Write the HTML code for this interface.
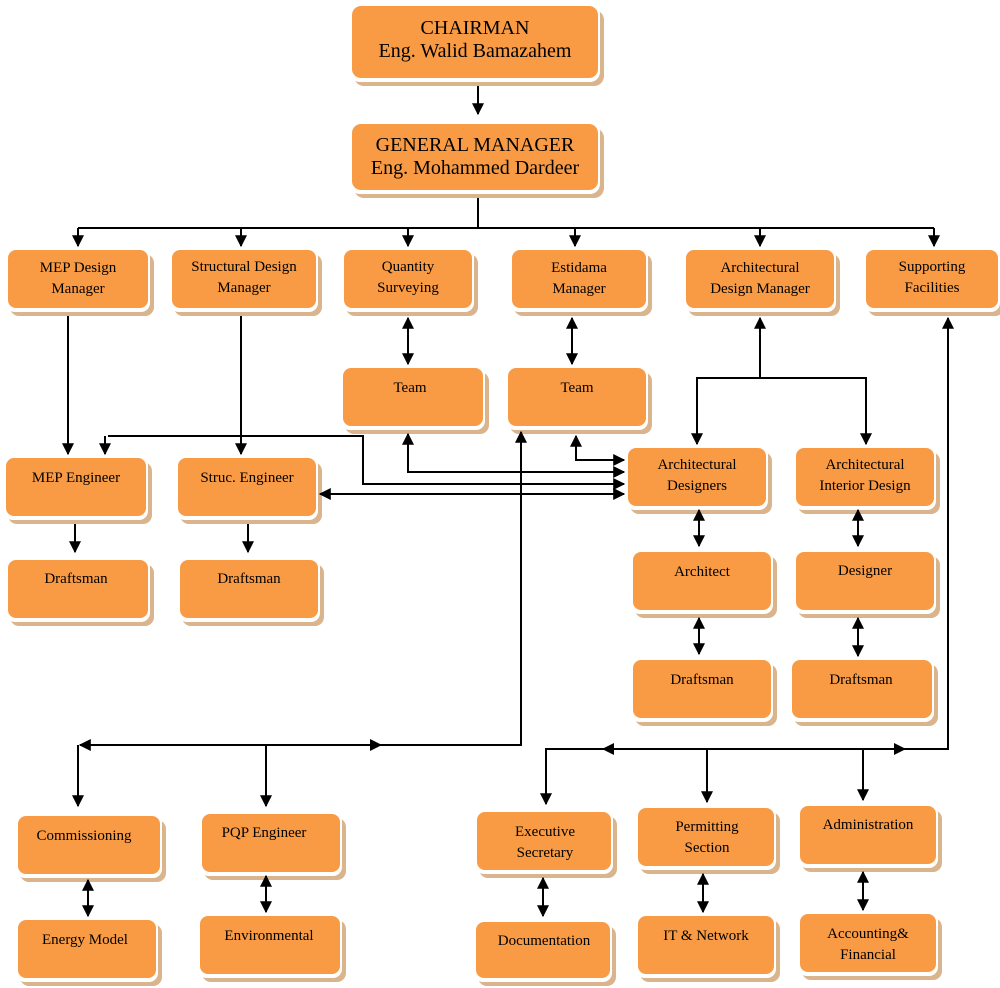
<!DOCTYPE html>
<html><head><meta charset="utf-8"><style>
body{margin:0;background:#fff;width:1000px;height:988px;overflow:hidden}
svg{display:block}
text{font-family:"Liberation Serif",serif;fill:#000;text-anchor:middle}
</style></head><body>
<svg width="1000" height="988" viewBox="0 0 1000 988" xmlns="http://www.w3.org/2000/svg">
<defs>
<marker id="a" viewBox="0 0 10 10" refX="9" refY="5" markerWidth="6" markerHeight="6" orient="auto-start-reverse" markerUnits="strokeWidth"><path d="M0,0L10,5L0,10z" fill="#000"/></marker>
</defs>
<style>
.s{fill:#d9b48c}.w{fill:#fff}.o{fill:#f99b45}
</style>
<g>
<g transform="translate(352,6)"><rect class="s" x="2" y="4" width="250" height="76" rx="10"/><rect class="w" x="-2" y="-2" width="250" height="78" rx="10"/><rect class="o" x="0" y="0" width="246" height="72" rx="9"/></g>
<g transform="translate(352,124)"><rect class="s" x="2" y="4" width="250" height="70" rx="10"/><rect class="w" x="-2" y="-2" width="250" height="72" rx="10"/><rect class="o" x="0" y="0" width="246" height="66" rx="9"/></g>
</g>
<g>
<g transform="translate(8,250)"><rect class="s" x="2" y="4" width="144" height="62" rx="9"/><rect class="w" x="-2" y="-2" width="144" height="64" rx="9"/><rect class="o" width="140" height="58" rx="8"/></g>
<g transform="translate(172,250)"><rect class="s" x="2" y="4" width="148" height="62" rx="9"/><rect class="w" x="-2" y="-2" width="148" height="64" rx="9"/><rect class="o" width="144" height="58" rx="8"/></g>
<g transform="translate(344,250)"><rect class="s" x="2" y="4" width="132" height="62" rx="9"/><rect class="w" x="-2" y="-2" width="132" height="64" rx="9"/><rect class="o" width="128" height="58" rx="8"/></g>
<g transform="translate(512,250)"><rect class="s" x="2" y="4" width="138" height="62" rx="9"/><rect class="w" x="-2" y="-2" width="138" height="64" rx="9"/><rect class="o" width="134" height="58" rx="8"/></g>
<g transform="translate(686,250)"><rect class="s" x="2" y="4" width="152" height="62" rx="9"/><rect class="w" x="-2" y="-2" width="152" height="64" rx="9"/><rect class="o" width="148" height="58" rx="8"/></g>
<g transform="translate(866,250)"><rect class="s" x="2" y="4" width="136" height="62" rx="9"/><rect class="w" x="-2" y="-2" width="136" height="64" rx="9"/><rect class="o" width="132" height="58" rx="8"/></g>
<g transform="translate(343,368)"><rect class="s" x="2" y="4" width="144" height="62" rx="9"/><rect class="w" x="-2" y="-2" width="144" height="64" rx="9"/><rect class="o" width="140" height="58" rx="8"/></g>
<g transform="translate(508,368)"><rect class="s" x="2" y="4" width="142" height="62" rx="9"/><rect class="w" x="-2" y="-2" width="142" height="64" rx="9"/><rect class="o" width="138" height="58" rx="8"/></g>
<g transform="translate(6,458)"><rect class="s" x="2" y="4" width="144" height="62" rx="9"/><rect class="w" x="-2" y="-2" width="144" height="64" rx="9"/><rect class="o" width="140" height="58" rx="8"/></g>
<g transform="translate(178,458)"><rect class="s" x="2" y="4" width="142" height="62" rx="9"/><rect class="w" x="-2" y="-2" width="142" height="64" rx="9"/><rect class="o" width="138" height="58" rx="8"/></g>
<g transform="translate(628,448)"><rect class="s" x="2" y="4" width="142" height="62" rx="9"/><rect class="w" x="-2" y="-2" width="142" height="64" rx="9"/><rect class="o" width="138" height="58" rx="8"/></g>
<g transform="translate(796,448)"><rect class="s" x="2" y="4" width="142" height="62" rx="9"/><rect class="w" x="-2" y="-2" width="142" height="64" rx="9"/><rect class="o" width="138" height="58" rx="8"/></g>
<g transform="translate(8,560)"><rect class="s" x="2" y="4" width="144" height="62" rx="9"/><rect class="w" x="-2" y="-2" width="144" height="64" rx="9"/><rect class="o" width="140" height="58" rx="8"/></g>
<g transform="translate(180,560)"><rect class="s" x="2" y="4" width="142" height="62" rx="9"/><rect class="w" x="-2" y="-2" width="142" height="64" rx="9"/><rect class="o" width="138" height="58" rx="8"/></g>
<g transform="translate(633,552)"><rect class="s" x="2" y="4" width="142" height="62" rx="9"/><rect class="w" x="-2" y="-2" width="142" height="64" rx="9"/><rect class="o" width="138" height="58" rx="8"/></g>
<g transform="translate(796,552)"><rect class="s" x="2" y="4" width="142" height="62" rx="9"/><rect class="w" x="-2" y="-2" width="142" height="64" rx="9"/><rect class="o" width="138" height="58" rx="8"/></g>
<g transform="translate(633,660)"><rect class="s" x="2" y="4" width="142" height="62" rx="9"/><rect class="w" x="-2" y="-2" width="142" height="64" rx="9"/><rect class="o" width="138" height="58" rx="8"/></g>
<g transform="translate(792,660)"><rect class="s" x="2" y="4" width="144" height="62" rx="9"/><rect class="w" x="-2" y="-2" width="144" height="64" rx="9"/><rect class="o" width="140" height="58" rx="8"/></g>
<g transform="translate(18,816)"><rect class="s" x="2" y="4" width="146" height="62" rx="9"/><rect class="w" x="-2" y="-2" width="146" height="64" rx="9"/><rect class="o" width="142" height="58" rx="8"/></g>
<g transform="translate(202,814)"><rect class="s" x="2" y="4" width="142" height="62" rx="9"/><rect class="w" x="-2" y="-2" width="142" height="64" rx="9"/><rect class="o" width="138" height="58" rx="8"/></g>
<g transform="translate(18,920)"><rect class="s" x="2" y="4" width="142" height="62" rx="9"/><rect class="w" x="-2" y="-2" width="142" height="64" rx="9"/><rect class="o" width="138" height="58" rx="8"/></g>
<g transform="translate(200,916)"><rect class="s" x="2" y="4" width="144" height="62" rx="9"/><rect class="w" x="-2" y="-2" width="144" height="64" rx="9"/><rect class="o" width="140" height="58" rx="8"/></g>
<g transform="translate(477,812)"><rect class="s" x="2" y="4" width="138" height="62" rx="9"/><rect class="w" x="-2" y="-2" width="138" height="64" rx="9"/><rect class="o" width="134" height="58" rx="8"/></g>
<g transform="translate(638,808)"><rect class="s" x="2" y="4" width="140" height="62" rx="9"/><rect class="w" x="-2" y="-2" width="140" height="64" rx="9"/><rect class="o" width="136" height="58" rx="8"/></g>
<g transform="translate(800,806)"><rect class="s" x="2" y="4" width="140" height="62" rx="9"/><rect class="w" x="-2" y="-2" width="140" height="64" rx="9"/><rect class="o" width="136" height="58" rx="8"/></g>
<g transform="translate(476,922)"><rect class="s" x="2" y="4" width="138" height="60" rx="9"/><rect class="w" x="-2" y="-2" width="138" height="62" rx="9"/><rect class="o" width="134" height="56" rx="8"/></g>
<g transform="translate(638,916)"><rect class="s" x="2" y="4" width="140" height="62" rx="9"/><rect class="w" x="-2" y="-2" width="140" height="64" rx="9"/><rect class="o" width="136" height="58" rx="8"/></g>
<g transform="translate(800,914)"><rect class="s" x="2" y="4" width="140" height="62" rx="9"/><rect class="w" x="-2" y="-2" width="140" height="64" rx="9"/><rect class="o" width="136" height="58" rx="8"/></g>
</g>

<g stroke="#000" stroke-width="2" fill="none">
<path d="M478,86V114" marker-end="url(#a)"/>
<path d="M478,198V228"/>
<path d="M78,228H934"/>
<path d="M78,228V246" marker-end="url(#a)"/>
<path d="M241,228V246" marker-end="url(#a)"/>
<path d="M408,228V246" marker-end="url(#a)"/>
<path d="M575,228V246" marker-end="url(#a)"/>
<path d="M760,228V246" marker-end="url(#a)"/>
<path d="M934,228V246" marker-end="url(#a)"/>
<path d="M68,316V454" marker-end="url(#a)"/>
<path d="M241,316V454" marker-end="url(#a)"/>
<path d="M408,318V364" marker-start="url(#a)" marker-end="url(#a)"/>
<path d="M572,318V364" marker-start="url(#a)" marker-end="url(#a)"/>
<path d="M760,318V378H697V444" marker-start="url(#a)" marker-end="url(#a)"/>
<path d="M760,378H866V444" marker-end="url(#a)"/>
<path d="M108,436H363V484H624" marker-end="url(#a)"/>
<path d="M105,436V454" marker-end="url(#a)"/>
<path d="M408,434V472H624" marker-start="url(#a)" marker-end="url(#a)"/>
<path d="M576,436V460H624" marker-start="url(#a)" marker-end="url(#a)"/>
<path d="M320,494H624" marker-start="url(#a)" marker-end="url(#a)"/>
<path d="M521,432V745H80" marker-start="url(#a)" marker-end="url(#a)"/>
<path d="M78,745V806" marker-end="url(#a)"/>
<path d="M266,745V806" marker-end="url(#a)"/>
<path d="M948,318V749H546V804" marker-start="url(#a)" marker-end="url(#a)"/>
<path d="M707,749V802" marker-end="url(#a)"/>
<path d="M863,749V800" marker-end="url(#a)"/>
<path d="M75,524V552" marker-end="url(#a)"/>
<path d="M248,524V552" marker-end="url(#a)"/>
<path d="M699,510V546" marker-start="url(#a)" marker-end="url(#a)"/>
<path d="M699,618V654" marker-start="url(#a)" marker-end="url(#a)"/>
<path d="M858,510V546" marker-start="url(#a)" marker-end="url(#a)"/>
<path d="M858,618V656" marker-start="url(#a)" marker-end="url(#a)"/>
<path d="M88,880V916" marker-start="url(#a)" marker-end="url(#a)"/>
<path d="M266,876V912" marker-start="url(#a)" marker-end="url(#a)"/>
<path d="M543,878V916" marker-start="url(#a)" marker-end="url(#a)"/>
<path d="M703,874V912" marker-start="url(#a)" marker-end="url(#a)"/>
<path d="M863,872V910" marker-start="url(#a)" marker-end="url(#a)"/>
</g>
<polygon points="370,739 382,745 370,751" fill="#000"/>
<polygon points="614,743 602,749 614,755" fill="#000"/>
<polygon points="894,743 906,749 894,755" fill="#000"/>

<g font-size="20">
<text x="475" y="34">CHAIRMAN</text>
<text x="475" y="57">Eng. Walid Bamazahem</text>
<text x="475" y="151">GENERAL MANAGER</text>
<text x="475" y="174">Eng. Mohammed Dardeer</text>
</g>
<g font-size="15">
<text x="78" y="272">MEP Design</text><text x="78" y="293">Manager</text>
<text x="244" y="271">Structural Design</text><text x="244" y="292">Manager</text>
<text x="408" y="271">Quantity</text><text x="408" y="292">Surveying</text>
<text x="579" y="272">Estidama</text><text x="579" y="293">Manager</text>
<text x="760" y="272">Architectural</text><text x="760" y="293">Design Manager</text>
<text x="932" y="271">Supporting</text><text x="932" y="292">Facilities</text>
<text x="410" y="392">Team</text>
<text x="577" y="392">Team</text>
<text x="76" y="482">MEP Engineer</text>
<text x="247" y="482">Struc. Engineer</text>
<text x="697" y="469">Architectural</text><text x="697" y="490">Designers</text>
<text x="865" y="469">Architectural</text><text x="865" y="490">Interior Design</text>
<text x="76" y="583">Draftsman</text>
<text x="249" y="583">Draftsman</text>
<text x="702" y="576">Architect</text>
<text x="865" y="575">Designer</text>
<text x="702" y="684">Draftsman</text>
<text x="861" y="684">Draftsman</text>
<text x="84" y="840">Commissioning</text>
<text x="264" y="837">PQP  Engineer</text>
<text x="85" y="944">Energy Model</text>
<text x="269" y="940">Environmental</text>
<text x="545" y="836">Executive</text><text x="545" y="857">Secretary</text>
<text x="707" y="831">Permitting</text><text x="707" y="852">Section</text>
<text x="868" y="829">Administration</text>
<text x="544" y="945">Documentation</text>
<text x="706" y="940">IT &amp; Network</text>
<text x="868" y="938">Accounting&amp;</text><text x="868" y="959">Financial</text>
</g>
</svg>
</body></html>
